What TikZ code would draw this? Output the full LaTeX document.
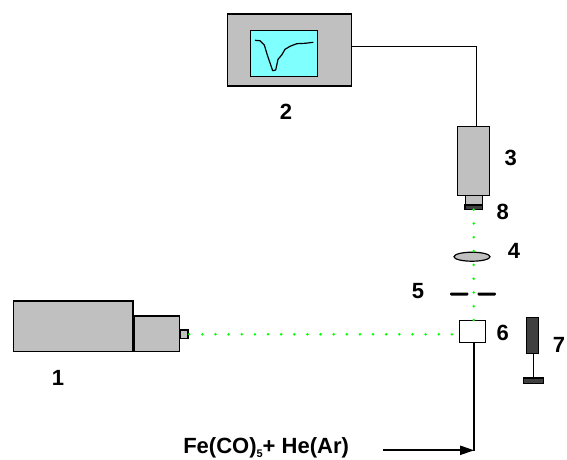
\documentclass[tikz,border=0pt]{standalone}
\usepackage{fontspec}
\setmainfont{Liberation Sans}
\usepackage{xcolor}
\usetikzlibrary{arrows.meta}
\usetikzlibrary{shapes.geometric}
\definecolor{unitgray}{HTML}{C0C0C0}
\definecolor{darkpart}{HTML}{404040}
\definecolor{screencyan}{HTML}{80FFFF}
\definecolor{beamgreen}{HTML}{00FF00}

\begin{document}
\begin{tikzpicture}[x=1pt,y=-1pt,line width=1.2pt,
		unit node/.style = {rectangle,draw,fill=unitgray,inner sep=0pt,outer sep=0pt},
		dark node/.style = {unit node,fill=darkpart},
		number node/.style = {font=\fontsize{22}{22}\selectfont\bfseries,inner sep=0pt},
		beam/.style = {beamgreen,line width=2.8pt,line cap=round,dash pattern=on 0pt off 13.8pt},
		feed/.style = {line width=2pt}]
			\useasboundingbox (0,0) rectangle (567,459);
			\node[unit node,minimum width=124pt,minimum height=72pt] at (289.6,50) (monitor) {};
			\node[unit node,fill=screencyan,minimum width=67pt,minimum height=46pt] at (284.1,53.5) (screen) {};
			\draw[line join=round] (255,40.3) -- (260,40.7) -- (264.3,45) -- (267.3,55) -- (272.7,70.7) -- (275.7,70) -- (278,59.3) -- (281.7,55) -- (285,49.3) -- (290,46.3) -- (296.7,43.7) -- (305,43.3) -- (313.3,42.3);
			\node[unit node,minimum width=32pt,minimum height=69pt] at (473.7,160.8) (camera) {};
			\node[unit node,minimum width=16.6pt,minimum height=9.7pt] at (474,200.2) (collar) {};
			\node[dark node,minimum width=17.3pt,minimum height=4.7pt] at (473.7,207.3) (filter) {};
			\node[unit node,ellipse,minimum width=36pt,minimum height=9pt] at (472,256.7) (lens) {};
			\node[rectangle,fill=black,rounded corners=1pt,inner sep=0pt,minimum width=18.3pt,minimum height=3pt] at (459.2,294) (slit left) {};
			\node[rectangle,fill=black,rounded corners=1pt,inner sep=0pt,minimum width=18.3pt,minimum height=3pt] at (486.8,294) (slit right) {};
			\node[rectangle,draw,fill=white,inner sep=0pt,minimum width=26pt,minimum height=22pt] at (472.3,331.7) (cell) {};
			\node[dark node,minimum width=12pt,minimum height=36pt] at (532.7,335.3) (probe) {};
			\node[dark node,minimum width=20pt,minimum height=5.3pt] at (533.3,380.7) (stand) {};
			\node[unit node,minimum width=119.3pt,minimum height=50.3pt] at (73.4,326.2) (laser) {};
			\node[unit node,minimum width=45.4pt,minimum height=35.3pt] at (157,333.7) (head) {};
			\node[unit node,minimum width=7.3pt,minimum height=8.8pt] at (184.3,334.3) (tip) {};
			\coordinate (wire corner) at (476.7,46);
			\coordinate (feed corner) at (473.5,450.3);
			\coordinate (feed start) at (383,450.3);
			\draw[line width=0.9pt] (monitor.east |- wire corner) -- (wire corner) -- (wire corner |- camera.north);
			\draw[line width=1.5pt] (probe.south -| stand.north) -- (stand.north);
			\draw[feed,line cap=rect] (feed corner |- cell.south) -- (feed corner);
			\draw[feed,-{Triangle[length=14pt,width=9pt]},shorten >=-0.7pt] (feed start) -- (feed corner);
			\draw[beam] (filter.south) -- (filter.south |- cell.north);
			\draw[beam,dash pattern=on 0pt off 13.13pt,dash phase=11.83pt] (tip.east) -- (tip.east -| cell.west);
			\node[number node] at (58,378) (label 1) {1};
			\node[number node] at (286,112) (label 2) {2};
			\node[number node] at (510.7,158) (label 3) {3};
			\node[number node] at (514,250.7) (label 4) {4};
			\node[number node] at (418,291) (label 5) {5};
			\node[number node] at (502.7,332.7) (label 6) {6};
			\node[number node] at (559,345) (label 7) {7};
			\node[number node] at (502.7,211.7) (label 8) {8};
			\node[number node,anchor=base west] at (182.7,453) (gas) {Fe(CO)\raisebox{-4.5pt}{\fontsize{11}{11}\selectfont 5}+ He(Ar)};
		\end{tikzpicture}
\end{document}
